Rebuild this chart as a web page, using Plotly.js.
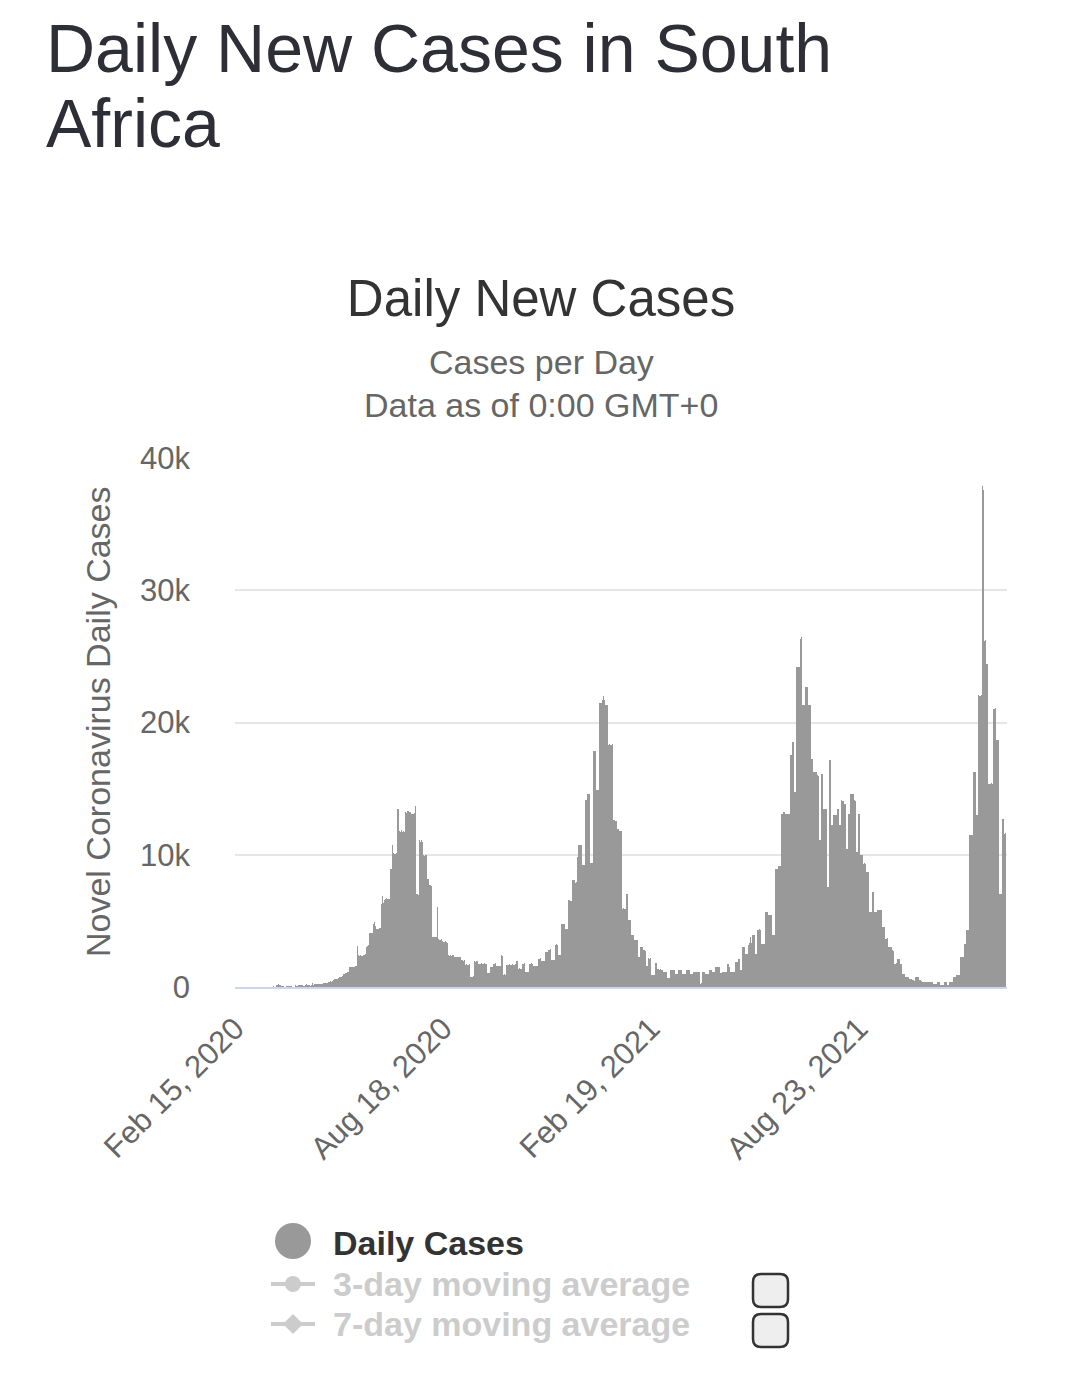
<!DOCTYPE html>
<html>
<head>
<meta charset="utf-8">
<script src="https://cdn.plot.ly/plotly-3.0.1.min.js"></script>
<style>
  html, body { margin: 0; padding: 0; background: #ffffff; }
  #chart { width: 1080px; height: 1384px; }
</style>
</head>
<body>
<div id="chart"></div>
<script>
// ---- Data: daily new cases in South Africa ----
const startDate = '2020-02-15';
const cases_2020_02 = [0,0,0,0,0,0,0,0,0,0,0,0,0,0,0];
const cases_2020_03 = [0,0,0,0,1,0,0,1,1,4,6,3,3,7,13,0,11,24,34,86,38,38,128,148,220,152,63,73,47,17,0];
const cases_2020_04 = [83,100,78,100,45,25,0,0,167,69,99,151,143,137,178,106,96,124,251,136,138,88,122,318,165,250,200,190,210,250];
const cases_2020_05 = [230,220,260,280,300,290,320,350,400,420,380,450,560,600,580,620,650,740,780,760,800,1020,1080,1060,1100,1130,1480,1520,1500,1550,1520];
const cases_2020_06 = [1560,1600,3100,2400,2350,2430,2380,2450,2420,2500,3050,3100,3150,4050,4100,4080,4790,4900,4600,4400,4420,4410,4450,6300,6860,6350,6600,6650,6700,6620];
const cases_2020_07 = [6680,8950,8900,10700,10100,10050,10080,10100,13480,11800,11750,11850,11700,11800,11720,13230,13150,13300,13200,13250,13100,13100,13050,13150,13660,7000,6930,11090,11000,11100,10950];
const cases_2020_08 = [9960,9900,10000,8190,8200,7690,7700,7650,3780,3800,3750,3800,6050,3600,3530,3550,3600,3500,3400,3450,3400,3300,2400,2350,2420,2380,2400,2300,2270,2280,2250];
const cases_2020_09 = [2270,2250,2280,2020,2000,2050,1700,1720,1680,1700,1710,760,740,800,1940,1920,1950,1940,1770,1760,1780,1770,1750,1780,1770,1760,1060,1050,1510,1500];
const cases_2020_10 = [1520,1770,1760,1780,1600,1610,1590,1600,2400,2380,940,950,930,1700,1690,1710,1700,1680,1720,1700,1690,1710,1950,1390,1400,1380,1390,1770,1760,1780,1130];
const cases_2020_11 = [1120,1140,1770,1760,1780,1770,1600,1610,1590,1600,2150,2140,2160,1950,1940,1960,2650,2640,2660,2830,2820,2840,2020,2010,2030,3150,3280,3200,2400,2390];
const cases_2020_12 = [2410,4790,4800,4780,4410,4420,4400,6550,6560,6540,8070,8080,8060,7900,7910,9830,10710,10700,10720,9200,9210,9190,14110,14120,14570,14560,9370,9360,9380,17840,17850];
const cases_2021_01 = [17830,14870,14860,21470,21460,21480,21730,21980,21730,21300,21310,18330,18340,18320,18330,18340,12600,12610,12590,11980,11970,11800,11810,11790,5930,5940,5920,7010,7000,5040,5030];
const cases_2021_02 = [5050,3910,3920,3900,3530,3540,3520,2270,2280,3020,3010,3030,2770,2760,1560,1570,2160,2150,2170,880,890,870,1800,1790,1330,1340,1320,1330];
const cases_2021_03 = [1300,1130,1120,1140,1130,680,690,670,1310,1300,1320,1310,960,970,950,1260,1250,1270,960,950,970,960,1260,1250,1270,1010,1000,1020,1130,1120,1140];
const cases_2021_04 = [1130,1120,1140,260,270,1130,1120,1140,1010,1000,1020,1260,1250,1270,1130,1120,1140,1510,1500,1520,1510,1060,1050,1130,1120,1140,1130,1760,1750,1510];
const cases_2021_05 = [1130,1140,1130,1150,1890,1900,1880,2140,2130,1260,1270,3020,3010,2520,2530,2510,3150,3350,3780,3340,3910,3900,2520,2530,4340,4330,4350,4340,3270,3260,3280];
const cases_2021_06 = [5670,5660,5680,5420,5410,5430,3910,3920,3900,8950,8940,8960,9150,9140,13100,13110,13230,13220,13100,13110,13090,13100,17520,17510,18540,18530,14740,14750,24190,24180];
const cases_2021_07 = [24200,26340,26485,21300,21310,21290,22680,22670,21300,21310,21290,17270,17260,16250,16240,16260,16000,15990,11090,11080,16130,16120,13480,13470,13490,7560,7550,17200,17190,12240,12250];
const cases_2021_08 = [12980,12970,12990,13480,13470,12240,12250,14110,14100,13860,13850,10460,10450,13100,13110,14590,14580,14600,14110,14100,10210,10200,13100,13110,9960,9950,9330,9340,9320,8690,8700];
const cases_2021_09 = [8680,5670,5660,7180,7170,5670,5660,5680,5800,5790,5810,5800,4540,4530,4550,3660,3650,3670,3020,3010,3030,2770,2760,1770,1760,1780,2140,2130,1770,1760];
const cases_2021_10 = [1010,1000,1020,760,770,750,630,640,620,500,510,490,760,750,770,500,510,490,380,390,370,380,390,370,380,390,370,380,250,260,240];
const cases_2021_11 = [380,390,370,130,140,120,380,390,370,130,140,380,390,370,760,770,750,880,890,870,880,2270,2260,2280,3280,3270,4290,4300,4280,11470];
const cases_2021_12 = [11460,11480,16260,16250,16270,12980,12970,22050,22040,22060,37875,37600,26200,26220,24450,24440,15380,15370,15390,15380,21050,21040,21060,18660,18650,7060,7050,7070,12730,12720,11600];
const cases_2022_01 = [11610];

const xTickDates = ['2020-02-15', '2020-08-18', '2021-02-19', '2021-08-23'];
const xTickLabels = ['Feb 15, 2020', 'Aug 18, 2020', 'Feb 19, 2021', 'Aug 23, 2021'];
const yTickValues = [0, 10000, 20000, 30000, 40000];
const yTickLabels = ['0', '10k', '20k', '30k', '40k'];
const legendLabels = ['Daily Cases', '3-day moving average', '7-day moving average'];

// ---- Build series ----
const dailyCases = [].concat(
  cases_2020_02, cases_2020_03, cases_2020_04, cases_2020_05, cases_2020_06,
  cases_2020_07, cases_2020_08, cases_2020_09, cases_2020_10, cases_2020_11,
  cases_2020_12, cases_2021_01, cases_2021_02, cases_2021_03, cases_2021_04,
  cases_2021_05, cases_2021_06, cases_2021_07, cases_2021_08, cases_2021_09,
  cases_2021_10, cases_2021_11, cases_2021_12, cases_2022_01
);
const t0 = Date.parse(startDate + 'T00:00:00Z');
const dates = dailyCases.map((_, i) => new Date(t0 + i * 86400000).toISOString().slice(0, 10));
const lastDate = dates[dates.length - 1];

// ---- Pixel helpers (plot area: x 235..1007, y 458..987) ----
const PL = 235, PR = 1007, PT = 458, PB = 987;
const px = x => (x - PL) / (PR - PL);
const py = y => (PB - y) / (PB - PT);

const FONT = 'Liberation Sans, Arial, Helvetica, sans-serif';
const BAR = '#999999';
const GHOST = '#cccccc';

const annotations = [
  {text: 'Daily New Cases in South', x: px(44), y: py(48), xanchor: 'left', yanchor: 'middle',
   font: {size: 68, color: '#2e2e36', family: FONT}},
  {text: 'Africa', x: px(44), y: py(123), xanchor: 'left', yanchor: 'middle',
   font: {size: 68, color: '#2e2e36', family: FONT}},
  {text: 'Cases per Day', x: px(541), y: py(362), xanchor: 'center', yanchor: 'middle',
   font: {size: 34, color: '#666666', family: FONT}},
  {text: 'Data as of 0:00 GMT+0', x: px(541), y: py(405), xanchor: 'center', yanchor: 'middle',
   font: {size: 34, color: '#666666', family: FONT}},
  {text: 'Novel Coronavirus Daily Cases', x: px(98), y: py(722), textangle: -90,
   xanchor: 'center', yanchor: 'middle', font: {size: 34, color: '#666666', family: FONT}},
  {text: '<b>' + legendLabels[0] + '</b>', x: px(331), y: py(1243), xanchor: 'left', yanchor: 'middle',
   font: {size: 34, color: '#333333', family: FONT}},
  {text: '<b>' + legendLabels[1] + '</b>', x: px(331), y: py(1284), xanchor: 'left', yanchor: 'middle',
   font: {size: 34, color: GHOST, family: FONT}},
  {text: '<b>' + legendLabels[2] + '</b>', x: px(331), y: py(1324), xanchor: 'left', yanchor: 'middle',
   font: {size: 34, color: GHOST, family: FONT}}
].map(a => Object.assign({xref: 'paper', yref: 'paper', showarrow: false}, a));

function rrect(x0, y0, x1, y1, r) {
  const X = v => px(v), Y = v => py(v);
  return `M${X(x0 + r)},${Y(y0)} L${X(x1 - r)},${Y(y0)} Q${X(x1)},${Y(y0)} ${X(x1)},${Y(y0 + r)} ` +
         `L${X(x1)},${Y(y1 - r)} Q${X(x1)},${Y(y1)} ${X(x1 - r)},${Y(y1)} L${X(x0 + r)},${Y(y1)} ` +
         `Q${X(x0)},${Y(y1)} ${X(x0)},${Y(y1 - r)} L${X(x0)},${Y(y0 + r)} Q${X(x0)},${Y(y0)} ${X(x0 + r)},${Y(y0)} Z`;
}
function diamond(cx, cy, h) {
  return `M${px(cx)},${py(cy - h)} L${px(cx + h)},${py(cy)} L${px(cx)},${py(cy + h)} L${px(cx - h)},${py(cy)} Z`;
}

const shapes = [
  {type: 'circle', x0: px(275), x1: px(311), y0: py(1259), y1: py(1223), fillcolor: BAR, line: {width: 0}},
  {type: 'line', x0: px(271), x1: px(315), y0: py(1284), y1: py(1284), line: {color: GHOST, width: 4}},
  {type: 'circle', x0: px(285), x1: px(301), y0: py(1292), y1: py(1276), fillcolor: GHOST, line: {width: 0}},
  {type: 'line', x0: px(271), x1: px(315), y0: py(1324), y1: py(1324), line: {color: GHOST, width: 4}},
  {type: 'path', path: diamond(293, 1324, 10), fillcolor: GHOST, line: {width: 0}},
  {type: 'path', path: rrect(753, 1274, 788, 1307, 8), fillcolor: '#eeeeee', line: {color: '#333333', width: 2.5}},
  {type: 'path', path: rrect(753, 1314, 788, 1347, 8), fillcolor: '#eeeeee', line: {color: '#333333', width: 2.5}}
].map(s => Object.assign({xref: 'paper', yref: 'paper', layer: 'above'}, s));

const trace = {
  type: 'bar',
  name: legendLabels[0],
  x: dates,
  y: dailyCases,
  marker: {color: BAR, line: {width: 0}},
  hoverinfo: 'x+y'
};

const layout = {
  width: 1080,
  height: 1384,
  margin: {l: PL, r: 1080 - PR, t: PT, b: 1384 - PB, pad: 0},
  paper_bgcolor: '#ffffff',
  plot_bgcolor: '#ffffff',
  font: {family: FONT, color: '#666666'},
  showlegend: false,
  bargap: 0,
  title: {
    text: 'Daily New Cases',
    font: {size: 51, color: '#333333', family: FONT},
    xref: 'container', yref: 'container',
    x: 541 / 1080, y: 1 - 298 / 1384,
    xanchor: 'center', yanchor: 'middle'
  },
  xaxis: {
    type: 'date',
    range: [startDate + ' 00:00', lastDate + ' 23:59'],
    autorange: false,
    tickmode: 'array',
    tickvals: xTickDates,
    ticktext: xTickLabels,
    tickangle: -45,
    tickfont: {size: 31, color: '#666666', family: FONT},
    ticks: '',
    ticklabelstandoff: 9,
    showgrid: false,
    zeroline: false,
    showline: true,
    linecolor: '#ccd6eb',
    linewidth: 2,
    fixedrange: true
  },
  yaxis: {
    range: [0, 40000],
    autorange: false,
    tickmode: 'array',
    tickvals: yTickValues,
    ticktext: yTickLabels,
    tickfont: {size: 31, color: '#666666', family: FONT},
    ticks: '',
    ticklabelstandoff: 44,
    showgrid: true,
    gridcolor: '#e6e6e6',
    gridwidth: 2,
    zeroline: false,
    showline: false,
    fixedrange: true
  },
  annotations: annotations,
  shapes: shapes
};

Plotly.newPlot('chart', [trace], layout, {displayModeBar: false, staticPlot: true});
</script>
</body>
</html>
